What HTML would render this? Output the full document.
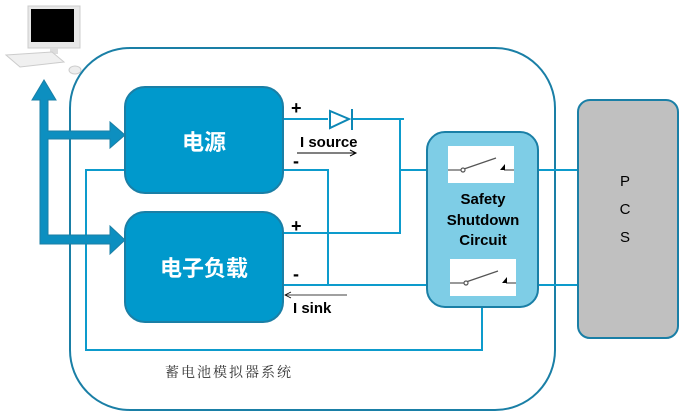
<!DOCTYPE html>
<html><head><meta charset="utf-8"><style>body{margin:0;background:#fff}svg{display:block}</style></head><body>
<svg width="685" height="418" viewBox="0 0 685 418" xmlns="http://www.w3.org/2000/svg" font-family="Liberation Sans, Noto Sans CJK SC, sans-serif">
<!-- computer -->
<rect x="28" y="6" width="52" height="42" fill="#e8e8e8" stroke="#ccc"/>
<rect x="31" y="9" width="43" height="33" fill="#000"/>
<rect x="50" y="48" width="8" height="6" fill="#ddd"/>
<polygon points="6,55 52,52 64,62 20,67" fill="#f0f0f0" stroke="#ccc"/>
<ellipse cx="75" cy="70" rx="6" ry="4" fill="#eee" stroke="#ccc"/>
<!-- outer -->
<rect x="70" y="48" width="485" height="362" rx="60" fill="none" stroke="#1a7fa6" stroke-width="2"/>
<!-- wires -->
<g stroke="#0d9bcc" stroke-width="2" fill="none">
<polyline points="283,119 328,119"/>
<polyline points="352,119 404,119"/>
<polyline points="400,119 400,233 283,233"/>
<polyline points="400,170 590,170"/>
<polyline points="283,170 328,170 328,285 283,285"/>
<polyline points="328,285 590,285"/>
<polyline points="125,170 86,170 86,350 482,350 482,307"/>
</g>
<polygon points="330,111 330,128 349,119" fill="#fff" stroke="#0d87b5" stroke-width="2"/>
<line x1="352" y1="109" x2="352" y2="130" stroke="#0d87b5" stroke-width="2"/>
<!-- blue arrows -->
<g fill="#0d8fc0" stroke="#1a7fa6" stroke-width="1">
<polygon points="40,100 32,100 44,80 56,100 48,100 48,131 110,131 110,122 125,135 110,148 110,139 48,139 48,235 110,235 110,226 125,240 110,254 110,244 40,244"/>
</g>
<!-- boxes -->
<rect x="125" y="87" width="158" height="106" rx="20" fill="#0099cc" stroke="#1a7fa6" stroke-width="2"/>
<rect x="125" y="212" width="158" height="110" rx="20" fill="#0099cc" stroke="#1a7fa6" stroke-width="2"/>
<text x="204" y="150" text-anchor="middle" fill="#fff" font-size="22" font-weight="bold">电源</text>
<text x="204" y="276" text-anchor="middle" fill="#fff" font-size="22" font-weight="bold">电子负载</text>
<g font-size="18" font-weight="bold" fill="#000">
<text x="291" y="114">+</text><text x="293" y="167">-</text>
<text x="291" y="232">+</text><text x="293" y="280">-</text>
</g>
<text x="300" y="147" font-size="15" font-weight="bold">I source</text>
<line x1="297" y1="153" x2="356" y2="153" stroke="#000"/>
<polyline points="350,150 356,153 350,156" fill="none" stroke="#000"/>
<line x1="285" y1="295" x2="347" y2="295" stroke="#000" stroke-width="0.8"/>
<polyline points="291,292 285,295 291,298" fill="none" stroke="#000" stroke-width="0.8"/>
<text x="293" y="313" font-size="15" font-weight="bold">I sink</text>
<!-- safety -->
<rect x="427" y="132" width="111" height="175" rx="18" fill="#7ecde6" stroke="#1a7fa6" stroke-width="2"/>
<rect x="448" y="146" width="66" height="37" fill="#fff"/>
<rect x="450" y="259" width="66" height="37" fill="#fff"/>
<g stroke="#555" stroke-width="1.2" fill="#fff">
<line x1="448" y1="170" x2="462" y2="170"/><line x1="464" y1="169" x2="496" y2="158"/>
<circle cx="463" cy="170" r="2"/><line x1="504" y1="170" x2="514" y2="170"/>
<line x1="450" y1="283" x2="464" y2="283"/><line x1="466" y1="282" x2="498" y2="271"/>
<circle cx="466" cy="283" r="2"/><line x1="506" y1="283" x2="516" y2="283"/>
</g>
<polygon points="500,170 505,164 505,170" fill="#000"/>
<polygon points="502,283 507,277 507,283" fill="#000"/>
<g font-size="15" font-weight="bold" text-anchor="middle" fill="#000">
<text x="483" y="204">Safety</text><text x="483" y="225">Shutdown</text><text x="483" y="245">Circuit</text>
</g>
<!-- PCS -->
<rect x="578" y="100" width="100" height="238" rx="12" fill="#c0c0c0" stroke="#1a7fa6" stroke-width="2"/>
<g font-size="15" text-anchor="middle" fill="#000"><text x="625" y="186">P</text><text x="625" y="214">C</text><text x="625" y="242">S</text></g>
<text x="165" y="377" font-size="14" fill="#333" font-family="Liberation Serif, Noto Serif CJK SC, serif" letter-spacing="2">蓄电池模拟器系统</text>
</svg>
</body></html>
